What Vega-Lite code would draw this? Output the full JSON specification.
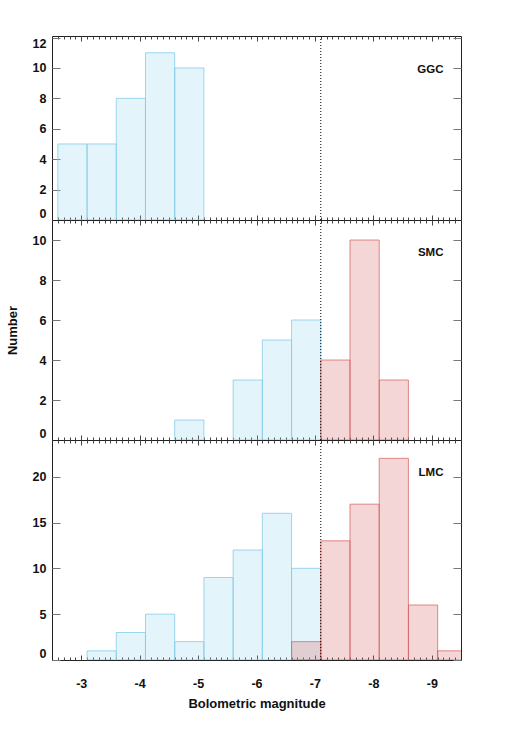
{
  "$schema": "https://vega.github.io/schema/vega-lite/v6.json",
  "padding": {"left": 5, "top": 35, "right": 5, "bottom": 5},
  "bounds": "flush",
  "spacing": 0,
  "config": {
    "font": "Liberation Sans",
    "view": {"stroke": "#222", "strokeWidth": 1},
    "axis": {"domain": false, "grid": false, "labelFont": "Liberation Sans", "labelFontWeight": "bold", "labelFontSize": 12.5, "labelColor": "#111", "titleFont": "Liberation Sans", "titleFontWeight": "bold", "titleFontSize": 13, "titleColor": "#111", "tickColor": "#444", "labelOverlap": false}
  },
  "datasets": {
    "bins": [
      {"galaxy": "GGC", "side": "faint", "lo": -2.6, "hi": -3.1, "n": 5},
      {"galaxy": "GGC", "side": "faint", "lo": -3.1, "hi": -3.6, "n": 5},
      {"galaxy": "GGC", "side": "faint", "lo": -3.6, "hi": -4.1, "n": 8},
      {"galaxy": "GGC", "side": "faint", "lo": -4.1, "hi": -4.6, "n": 11},
      {"galaxy": "GGC", "side": "faint", "lo": -4.6, "hi": -5.1, "n": 10},
      {"galaxy": "SMC", "side": "faint", "lo": -4.6, "hi": -5.1, "n": 1},
      {"galaxy": "SMC", "side": "faint", "lo": -5.6, "hi": -6.1, "n": 3},
      {"galaxy": "SMC", "side": "faint", "lo": -6.1, "hi": -6.6, "n": 5},
      {"galaxy": "SMC", "side": "faint", "lo": -6.6, "hi": -7.1, "n": 6},
      {"galaxy": "SMC", "side": "bright", "lo": -7.1, "hi": -7.6, "n": 4},
      {"galaxy": "SMC", "side": "bright", "lo": -7.6, "hi": -8.1, "n": 10},
      {"galaxy": "SMC", "side": "bright", "lo": -8.1, "hi": -8.6, "n": 3},
      {"galaxy": "LMC", "side": "faint", "lo": -3.1, "hi": -3.6, "n": 1},
      {"galaxy": "LMC", "side": "faint", "lo": -3.6, "hi": -4.1, "n": 3},
      {"galaxy": "LMC", "side": "faint", "lo": -4.1, "hi": -4.6, "n": 5},
      {"galaxy": "LMC", "side": "faint", "lo": -4.6, "hi": -5.1, "n": 2},
      {"galaxy": "LMC", "side": "faint", "lo": -5.1, "hi": -5.6, "n": 9},
      {"galaxy": "LMC", "side": "faint", "lo": -5.6, "hi": -6.1, "n": 12},
      {"galaxy": "LMC", "side": "faint", "lo": -6.1, "hi": -6.6, "n": 16},
      {"galaxy": "LMC", "side": "faint", "lo": -6.6, "hi": -7.1, "n": 10},
      {"galaxy": "LMC", "side": "bright", "lo": -6.6, "hi": -7.1, "n": 2},
      {"galaxy": "LMC", "side": "bright", "lo": -7.1, "hi": -7.6, "n": 13},
      {"galaxy": "LMC", "side": "bright", "lo": -7.6, "hi": -8.1, "n": 17},
      {"galaxy": "LMC", "side": "bright", "lo": -8.1, "hi": -8.6, "n": 22},
      {"galaxy": "LMC", "side": "bright", "lo": -8.6, "hi": -9.1, "n": 6},
      {"galaxy": "LMC", "side": "bright", "lo": -9.1, "hi": -9.6, "n": 1}
    ]
  },
  "vconcat": [
    {
      "width": 409, "height": 184,
      "data": {"name": "bins"},
      "resolve": {"axis": {"x": "independent", "y": "independent"}},
      "layer": [
        {
          "transform": [{"filter": "datum.galaxy == 'GGC' && datum.side == 'faint'"}],
          "mark": {"type": "rect", "fill": "#86cdeb", "fillOpacity": 0.22, "stroke": "#86cdeb", "strokeOpacity": 0.8, "strokeWidth": 1, "clip": true},
          "encoding": {
            "x": {"field": "lo", "type": "quantitative", "scale": {"domain": [-2.5, -9.5], "nice": false, "zero": false}, "axis": {"orient": "bottom", "values": [-3, -4, -5, -6, -7, -8, -9], "tickSize": -5, "labels": false, "title": null}},
            "x2": {"field": "hi"},
            "y": {"field": "n", "type": "quantitative", "scale": {"domain": [0, 12.1], "nice": false, "zero": true}, "axis": {"orient": "left", "values": [0, 2, 4, 6, 8, 10, 12], "tickSize": -8, "tickColor": "#777", "labelPadding": 14, "labelFlush": 2, "title": null}},
            "y2": {"datum": 0}
          }
        },
        {
          "transform": [{"filter": "datum.galaxy == 'GGC' && datum.side == 'bright'"}],
          "mark": {"type": "rect", "fill": "#d45d5d", "fillOpacity": 0.25, "stroke": "#d45d5d", "strokeOpacity": 0.7, "strokeWidth": 1, "clip": true},
          "encoding": {
            "x": {"field": "lo", "type": "quantitative", "scale": {"domain": [-2.5, -9.5], "nice": false, "zero": false}, "axis": {"orient": "bottom", "values": [-2.6,-2.7,-2.8,-2.9,-3.1,-3.2,-3.3,-3.4,-3.5,-3.6,-3.7,-3.8,-3.9,-4.1,-4.2,-4.3,-4.4,-4.5,-4.6,-4.7,-4.8,-4.9,-5.1,-5.2,-5.3,-5.4,-5.5,-5.6,-5.7,-5.8,-5.9,-6.1,-6.2,-6.3,-6.4,-6.5,-6.6,-6.7,-6.8,-6.9,-7.1,-7.2,-7.3,-7.4,-7.5,-7.6,-7.7,-7.8,-7.9,-8.1,-8.2,-8.3,-8.4,-8.5,-8.6,-8.7,-8.8,-8.9,-9.1,-9.2,-9.3,-9.4], "tickSize": -3, "labels": false, "title": null}},
            "x2": {"field": "hi"},
            "y": {"field": "n", "type": "quantitative", "scale": {"domain": [0, 12.1], "nice": false, "zero": true}, "axis": null},
            "y2": {"datum": 0}
          }
        },
        {
          "data": {"values": [{}]},
          "mark": {"type": "rule", "color": "#000", "strokeDash": [1, 2], "strokeWidth": 1},
          "encoding": {
            "x": {"datum": -7.1, "type": "quantitative", "scale": {"domain": [-2.5, -9.5], "nice": false, "zero": false}, "axis": {"orient": "top", "values": [-3, -4, -5, -6, -7, -8, -9], "tickSize": -5, "labels": false, "title": null}}
          }
        },
        {
          "data": {"values": [{"galaxy": "GGC"}]},
          "mark": {"type": "text", "align": "right", "baseline": "middle", "font": "Liberation Sans", "fontWeight": "bold", "fontSize": 11.5, "color": "#111"},
          "encoding": {
            "x": {"datum": -9.2, "type": "quantitative", "scale": {"domain": [-2.5, -9.5], "nice": false, "zero": false}, "axis": {"orient": "top", "values": [-2.6,-2.7,-2.8,-2.9,-3.1,-3.2,-3.3,-3.4,-3.5,-3.6,-3.7,-3.8,-3.9,-4.1,-4.2,-4.3,-4.4,-4.5,-4.6,-4.7,-4.8,-4.9,-5.1,-5.2,-5.3,-5.4,-5.5,-5.6,-5.7,-5.8,-5.9,-6.1,-6.2,-6.3,-6.4,-6.5,-6.6,-6.7,-6.8,-6.9,-7.1,-7.2,-7.3,-7.4,-7.5,-7.6,-7.7,-7.8,-7.9,-8.1,-8.2,-8.3,-8.4,-8.5,-8.6,-8.7,-8.8,-8.9,-9.1,-9.2,-9.3,-9.4], "tickSize": -3, "labels": false, "title": null}},
            "y": {"datum": 9.87, "type": "quantitative", "scale": {"domain": [0, 12.1], "nice": false, "zero": true}, "axis": {"orient": "right", "values": [0, 2, 4, 6, 8, 10, 12], "tickSize": -8, "tickColor": "#777", "labels": false, "title": null}},
            "text": {"field": "galaxy"}
          }
        }
      ]
    },
    {
      "width": 409, "height": 220,
      "data": {"name": "bins"},
      "resolve": {"axis": {"x": "independent", "y": "independent"}},
      "layer": [
        {
          "transform": [{"filter": "datum.galaxy == 'SMC' && datum.side == 'faint'"}],
          "mark": {"type": "rect", "fill": "#86cdeb", "fillOpacity": 0.22, "stroke": "#86cdeb", "strokeOpacity": 0.8, "strokeWidth": 1, "clip": true},
          "encoding": {
            "x": {"field": "lo", "type": "quantitative", "scale": {"domain": [-2.5, -9.5], "nice": false, "zero": false}, "axis": {"orient": "bottom", "values": [-3, -4, -5, -6, -7, -8, -9], "tickSize": -5, "labels": false, "title": null}},
            "x2": {"field": "hi"},
            "y": {"field": "n", "type": "quantitative", "scale": {"domain": [0, 11], "nice": false, "zero": true}, "axis": {"orient": "left", "values": [0, 2, 4, 6, 8, 10], "tickSize": -8, "tickColor": "#777", "labelPadding": 14, "labelFlush": 2, "title": "Number", "titleX": -40, "titleY": 110, "titleAngle": -90, "titleAlign": "center", "titleBaseline": "middle"}},
            "y2": {"datum": 0}
          }
        },
        {
          "transform": [{"filter": "datum.galaxy == 'SMC' && datum.side == 'bright'"}],
          "mark": {"type": "rect", "fill": "#d45d5d", "fillOpacity": 0.25, "stroke": "#d45d5d", "strokeOpacity": 0.7, "strokeWidth": 1, "clip": true},
          "encoding": {
            "x": {"field": "lo", "type": "quantitative", "scale": {"domain": [-2.5, -9.5], "nice": false, "zero": false}, "axis": {"orient": "bottom", "values": [-2.6,-2.7,-2.8,-2.9,-3.1,-3.2,-3.3,-3.4,-3.5,-3.6,-3.7,-3.8,-3.9,-4.1,-4.2,-4.3,-4.4,-4.5,-4.6,-4.7,-4.8,-4.9,-5.1,-5.2,-5.3,-5.4,-5.5,-5.6,-5.7,-5.8,-5.9,-6.1,-6.2,-6.3,-6.4,-6.5,-6.6,-6.7,-6.8,-6.9,-7.1,-7.2,-7.3,-7.4,-7.5,-7.6,-7.7,-7.8,-7.9,-8.1,-8.2,-8.3,-8.4,-8.5,-8.6,-8.7,-8.8,-8.9,-9.1,-9.2,-9.3,-9.4], "tickSize": -3, "labels": false, "title": null}},
            "x2": {"field": "hi"},
            "y": {"field": "n", "type": "quantitative", "scale": {"domain": [0, 11], "nice": false, "zero": true}, "axis": null},
            "y2": {"datum": 0}
          }
        },
        {
          "data": {"values": [{}]},
          "mark": {"type": "rule", "color": "#000", "strokeDash": [1, 2], "strokeWidth": 1},
          "encoding": {
            "x": {"datum": -7.1, "type": "quantitative", "scale": {"domain": [-2.5, -9.5], "nice": false, "zero": false}, "axis": {"orient": "top", "values": [-3, -4, -5, -6, -7, -8, -9], "tickSize": -5, "labels": false, "title": null}}
          }
        },
        {
          "data": {"values": [{"galaxy": "SMC"}]},
          "mark": {"type": "text", "align": "right", "baseline": "middle", "font": "Liberation Sans", "fontWeight": "bold", "fontSize": 11.5, "color": "#111"},
          "encoding": {
            "x": {"datum": -9.2, "type": "quantitative", "scale": {"domain": [-2.5, -9.5], "nice": false, "zero": false}, "axis": {"orient": "top", "values": [-2.6,-2.7,-2.8,-2.9,-3.1,-3.2,-3.3,-3.4,-3.5,-3.6,-3.7,-3.8,-3.9,-4.1,-4.2,-4.3,-4.4,-4.5,-4.6,-4.7,-4.8,-4.9,-5.1,-5.2,-5.3,-5.4,-5.5,-5.6,-5.7,-5.8,-5.9,-6.1,-6.2,-6.3,-6.4,-6.5,-6.6,-6.7,-6.8,-6.9,-7.1,-7.2,-7.3,-7.4,-7.5,-7.6,-7.7,-7.8,-7.9,-8.1,-8.2,-8.3,-8.4,-8.5,-8.6,-8.7,-8.8,-8.9,-9.1,-9.2,-9.3,-9.4], "tickSize": -3, "labels": false, "title": null}},
            "y": {"datum": 9.35, "type": "quantitative", "scale": {"domain": [0, 11], "nice": false, "zero": true}, "axis": {"orient": "right", "values": [0, 2, 4, 6, 8, 10], "tickSize": -8, "tickColor": "#777", "labels": false, "title": null}},
            "text": {"field": "galaxy"}
          }
        }
      ]
    },
    {
      "width": 409, "height": 220,
      "data": {"name": "bins"},
      "resolve": {"axis": {"x": "independent", "y": "independent"}},
      "layer": [
        {
          "transform": [{"filter": "datum.galaxy == 'LMC' && datum.side == 'faint'"}],
          "mark": {"type": "rect", "fill": "#86cdeb", "fillOpacity": 0.22, "stroke": "#86cdeb", "strokeOpacity": 0.8, "strokeWidth": 1, "clip": true},
          "encoding": {
            "x": {"field": "lo", "type": "quantitative", "scale": {"domain": [-2.5, -9.5], "nice": false, "zero": false}, "axis": {"orient": "bottom", "values": [-3, -4, -5, -6, -7, -8, -9], "tickSize": -5, "labels": true, "labelExpr": "'-' + abs(datum.value)", "labelPadding": 22, "title": "Bolometric magnitude", "titleX": 204.5, "titleY": 43.5, "titleAlign": "center", "titleBaseline": "middle"}},
            "x2": {"field": "hi"},
            "y": {"field": "n", "type": "quantitative", "scale": {"domain": [0, 24], "nice": false, "zero": true}, "axis": {"orient": "left", "values": [0, 5, 10, 15, 20], "tickSize": -8, "tickColor": "#777", "labelPadding": 14, "labelFlush": 2, "title": null}},
            "y2": {"datum": 0}
          }
        },
        {
          "transform": [{"filter": "datum.galaxy == 'LMC' && datum.side == 'bright'"}],
          "mark": {"type": "rect", "fill": "#d45d5d", "fillOpacity": 0.25, "stroke": "#d45d5d", "strokeOpacity": 0.7, "strokeWidth": 1, "clip": true},
          "encoding": {
            "x": {"field": "lo", "type": "quantitative", "scale": {"domain": [-2.5, -9.5], "nice": false, "zero": false}, "axis": {"orient": "bottom", "values": [-2.6,-2.7,-2.8,-2.9,-3.1,-3.2,-3.3,-3.4,-3.5,-3.6,-3.7,-3.8,-3.9,-4.1,-4.2,-4.3,-4.4,-4.5,-4.6,-4.7,-4.8,-4.9,-5.1,-5.2,-5.3,-5.4,-5.5,-5.6,-5.7,-5.8,-5.9,-6.1,-6.2,-6.3,-6.4,-6.5,-6.6,-6.7,-6.8,-6.9,-7.1,-7.2,-7.3,-7.4,-7.5,-7.6,-7.7,-7.8,-7.9,-8.1,-8.2,-8.3,-8.4,-8.5,-8.6,-8.7,-8.8,-8.9,-9.1,-9.2,-9.3,-9.4], "tickSize": -3, "labels": false, "title": null}},
            "x2": {"field": "hi"},
            "y": {"field": "n", "type": "quantitative", "scale": {"domain": [0, 24], "nice": false, "zero": true}, "axis": null},
            "y2": {"datum": 0}
          }
        },
        {
          "data": {"values": [{}]},
          "mark": {"type": "rule", "color": "#000", "strokeDash": [1, 2], "strokeWidth": 1},
          "encoding": {
            "x": {"datum": -7.1, "type": "quantitative", "scale": {"domain": [-2.5, -9.5], "nice": false, "zero": false}, "axis": {"orient": "top", "values": [-3, -4, -5, -6, -7, -8, -9], "tickSize": -5, "labels": false, "title": null}}
          }
        },
        {
          "data": {"values": [{"galaxy": "LMC"}]},
          "mark": {"type": "text", "align": "right", "baseline": "middle", "font": "Liberation Sans", "fontWeight": "bold", "fontSize": 11.5, "color": "#111"},
          "encoding": {
            "x": {"datum": -9.2, "type": "quantitative", "scale": {"domain": [-2.5, -9.5], "nice": false, "zero": false}, "axis": {"orient": "top", "values": [-2.6,-2.7,-2.8,-2.9,-3.1,-3.2,-3.3,-3.4,-3.5,-3.6,-3.7,-3.8,-3.9,-4.1,-4.2,-4.3,-4.4,-4.5,-4.6,-4.7,-4.8,-4.9,-5.1,-5.2,-5.3,-5.4,-5.5,-5.6,-5.7,-5.8,-5.9,-6.1,-6.2,-6.3,-6.4,-6.5,-6.6,-6.7,-6.8,-6.9,-7.1,-7.2,-7.3,-7.4,-7.5,-7.6,-7.7,-7.8,-7.9,-8.1,-8.2,-8.3,-8.4,-8.5,-8.6,-8.7,-8.8,-8.9,-9.1,-9.2,-9.3,-9.4], "tickSize": -3, "labels": false, "title": null}},
            "y": {"datum": 20.4, "type": "quantitative", "scale": {"domain": [0, 24], "nice": false, "zero": true}, "axis": {"orient": "right", "values": [0, 5, 10, 15, 20], "tickSize": -8, "tickColor": "#777", "labels": false, "title": null}},
            "text": {"field": "galaxy"}
          }
        }
      ]
    }
  ]
}
